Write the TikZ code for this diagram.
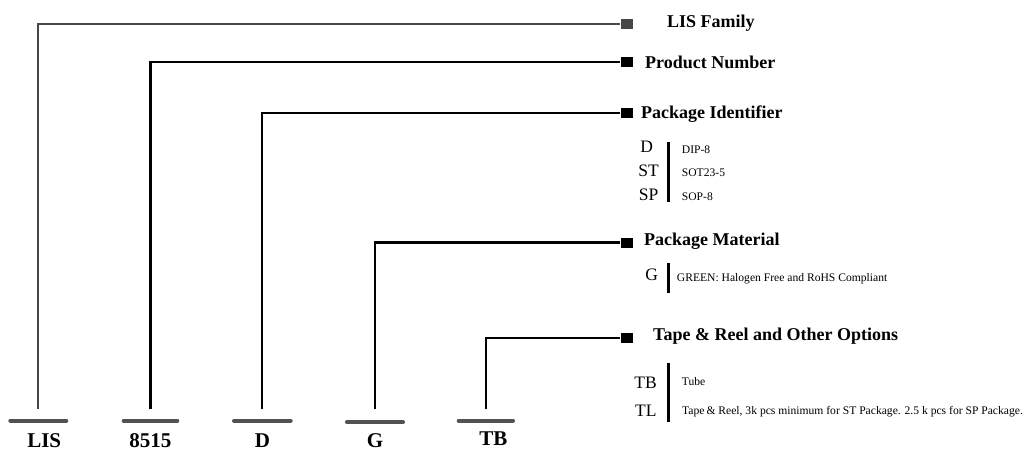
\documentclass[tikz,border=0pt]{standalone}
\usepackage{fontspec}
\setmainfont{Liberation Serif}
\begin{document}
\begin{tikzpicture}[x=1pt,y=-1pt,
    lead/.style={line width=2.2pt},
    pin/.style={fill=black,minimum width=12pt,minimum height=10pt,inner sep=0pt},
    bar/.style={line width=4pt,draw=black!68,line cap=round},
    brace/.style={line width=3pt},
    head/.style={anchor=base west,inner sep=0pt,font=\fontsize{18}{21}\selectfont\bfseries},
    part/.style={anchor=base,inner sep=0pt,font=\fontsize{21}{24}\selectfont\bfseries},
    code/.style={anchor=base,inner sep=0pt,font=\fontsize{17.5}{20}\selectfont},
    note/.style={anchor=base west,inner sep=0pt,font=\fontsize{11.6}{13}\selectfont}]
    \useasboundingbox (0,0) rectangle (1030,452);
    % end pins
    \node [pin,fill=black!72] (pFam) at (626.5,24) {};
    \node [pin] (pNum) at (626.5,62) {};
    \node [pin] (pPkg) at (626.5,113) {};
    \node [pin] (pMat) at (626.5,242.5) {};
    \node [pin] (pOpt) at (626.5,338) {};
    % feet of the leads
    \coordinate (tLIS) at (38.3,409);
    \coordinate (tNum) at (150.5,409);
    \coordinate (tD) at (262.3,409);
    \coordinate (tG) at (375,409);
    \coordinate (tTB) at (485.7,409);
    \draw [lead,draw=black!72] (tLIS) |- (pFam.west);
    \draw [lead] (tNum) |- (pNum.west);
    \draw [lead] (tD) |- (pPkg.west);
    \draw [lead] (tG) |- (pMat.west);
    \draw [lead] (tTB) |- (pOpt.west);
    % part number fields
    \draw [bar] (10.3,420.7) -- (66.3,420.7);
    \draw [bar] (123.7,420.7) -- (177.3,420.7);
    \draw [bar] (234,420.7) -- (290.7,420.7);
    \draw [bar] (347,422.3) -- (403,422.3);
    \draw [bar] (458.7,420.7) -- (513,420.7);
    \node [part] (lLIS) at (44.2,447.5) {LIS};
    \node [part] (lNum) at (150.3,447.5) {8515};
    \node [part] (lD) at (262.5,447.5) {D};
    \node [part] (lG) at (375,447.5) {G};
    \node [part] (lTB) at (493.3,445.5) {TB};
    % headings
    \node [head] (hFam) at (667,28) {LIS Family};
    \node [head] (hNum) at (645,68) {Product Number};
    \node [head] (hPkg) at (641,118.5) {Package Identifier};
    \node [head] (hMat) at (644,245) {Package Material};
    \node [head] (hOpt) at (653,340) {Tape \& Reel and Other Options};
    % package identifier
    \draw [brace] (668.5,142) -- (668.5,202);
    \node [code] (cD) at (646.7,152) {D};
    \node [code] (cST) at (648.5,176) {ST};
    \node [code] (cSP) at (648.5,200.7) {SP};
    \node [note] (nD) at (681.7,153) {DIP-8};
    \node [note] (nST) at (681.7,176.5) {SOT23-5};
    \node [note] (nSP) at (681.7,200.7) {SOP-8};
    % package material
    \draw [brace] (668.5,263) -- (668.5,293);
    \node [code] (cG) at (651.7,280) {G};
    \node [note] (nG) at (676.7,281.5) {GREEN: Halogen Free and RoHS Compliant};
    % options
    \draw [brace] (668.5,363) -- (668.5,422);
    \node [code] (cTB) at (645.5,388) {TB};
    \node [code] (cTL) at (645.8,416.7) {TL};
    \node [note] (nTB) at (681.7,385.7) {Tube};
    \node [note] (nTL) at (682,414.3) {Tape\,\& Reel, 3k pcs minimum for ST Package. 2.5 k pcs for SP Package.};
\end{tikzpicture}
\end{document}
